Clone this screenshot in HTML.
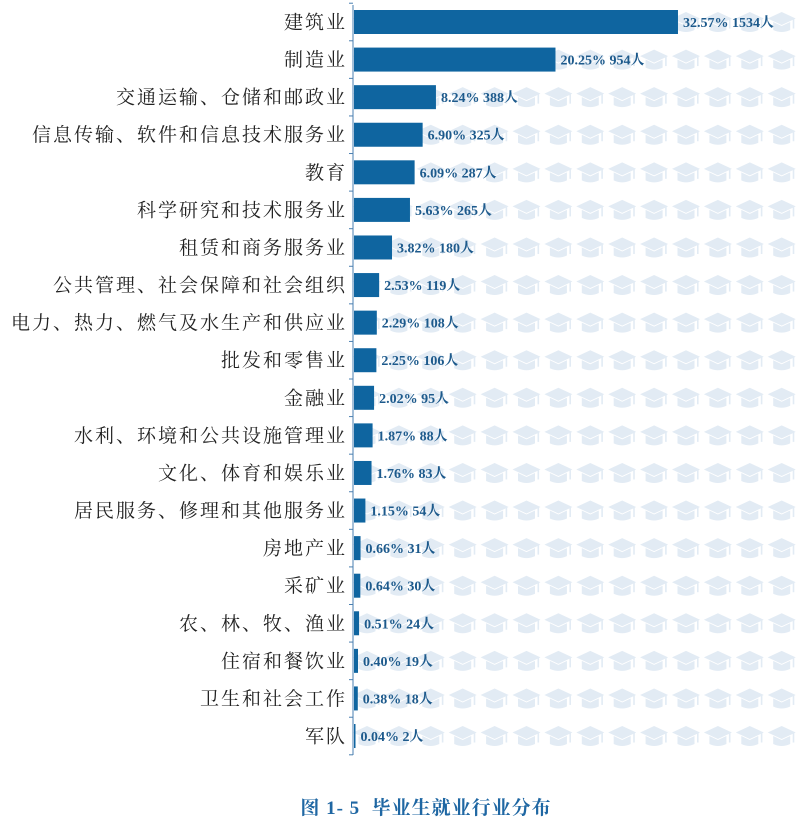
<!DOCTYPE html>
<html><head><meta charset="utf-8"><style>
html,body{margin:0;padding:0;background:#fff}
svg{display:block}
</style></head><body>
<svg width="805" height="828" viewBox="0 0 805 828" xmlns="http://www.w3.org/2000/svg">
<defs>
<g id="cap" fill="#e2ebf4">
<polygon points="0,-10 14,-3.5 0,3 -14,-3.5"/>
<path d="M-8.5,0 L0,4 L8.5,0 L8.5,8 Q0,12 -8.5,8 Z"/>
<rect x="11" y="-3.5" width="1.6" height="10"/>
</g>
</defs>
<g id="caps"></g>
<g id="bars"></g>
<line x1="353" y1="5" x2="353" y2="755" stroke="#4a7fb0" stroke-width="1"/>
<g id="ticks"></g>
<g id="labels" font-family="'Liberation Serif','Noto Serif CJK SC',serif" font-size="19" letter-spacing="2" fill="#222" text-anchor="end"></g>
<g id="vals" font-family="'Liberation Serif','Noto Serif CJK SC',serif" font-size="14" font-weight="bold" fill="#1d5a8c"></g>
<text x="426" y="814" text-anchor="middle" font-family="'Liberation Serif','Noto Serif CJK SC',serif" font-size="19" font-weight="bold" letter-spacing="1" fill="#1f67a3">图 1- 5&#160;&#160;毕业生就业行业分布</text>
</svg>
<script>
var d=[["建筑业","32.57%",1534],["制造业","20.25%",954],["交通运输、仓储和邮政业","8.24%",388],["信息传输、软件和信息技术服务业","6.90%",325],["教育","6.09%",287],["科学研究和技术服务业","5.63%",265],["租赁和商务服务业","3.82%",180],["公共管理、社会保障和社会组织","2.53%",119],["电力、热力、燃气及水生产和供应业","2.29%",108],["批发和零售业","2.25%",106],["金融业","2.02%",95],["水利、环境和公共设施管理业","1.87%",88],["文化、体育和娱乐业","1.76%",83],["居民服务、修理和其他服务业","1.15%",54],["房地产业","0.66%",31],["采矿业","0.64%",30],["农、林、牧、渔业","0.51%",24],["住宿和餐饮业","0.40%",19],["卫生和社会工作","0.38%",18],["军队","0.04%",2]];
var ns="http://www.w3.org/2000/svg";
function el(t,a,p,txt){var e=document.createElementNS(ns,t);for(var k in a)e.setAttribute(k,a[k]);if(txt)e.textContent=txt;document.getElementById(p).appendChild(e);return e;}
var pitch=37.58;
for(var i=0;i<20;i++){
 var cy=22+i*pitch;
 for(var k=0;k<14;k++){el("use",{href:"#cap",x:367+31.9*k,y:cy},"caps");}
 var w=Math.max(1.5,d[i][2]*0.2112);
 el("rect",{x:354,y:cy-12,width:w,height:24,fill:"#0f65a0"},"bars");
 el("line",{x1:349,y1:cy-pitch/2,x2:353,y2:cy-pitch/2,stroke:"#4a7fb0"},"ticks");
 el("text",{x:347,y:cy+6.5},"labels",d[i][0]);
 el("text",{x:354+w+5,y:cy+5},"vals",d[i][1]+" "+d[i][2]+"人");
}
el("line",{x1:349,y1:22+19.5*pitch,x2:353,y2:22+19.5*pitch,stroke:"#4a7fb0"},"ticks");
</script>
</body></html>
